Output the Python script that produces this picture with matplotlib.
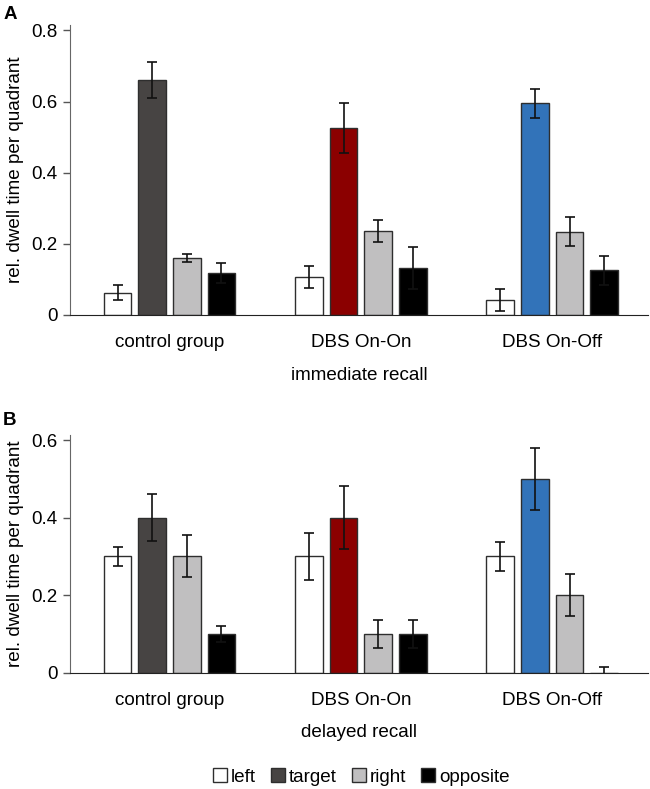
import matplotlib.pyplot as plt
import numpy as np
from matplotlib.patches import Patch

plt.rcParams['font.family'] = ['Liberation Sans', 'DejaVu Sans']

groups = ['control group', 'DBS On-On', 'DBS On-Off']
quadrants = ['left', 'target', 'right', 'opposite']

# immediate recall (panel A): one list per quadrant, one value per group
imm_left = [0.063, 0.107, 0.043]
imm_target = [0.660, 0.526, 0.595]
imm_right = [0.160, 0.235, 0.234]
imm_opposite = [0.118, 0.132, 0.125]
imm_left_err = [0.020, 0.031, 0.031]
imm_target_err = [0.051, 0.070, 0.040]
imm_right_err = [0.010, 0.031, 0.041]
imm_opposite_err = [0.029, 0.060, 0.040]

# delayed recall (panel B)
del_left = [0.30, 0.30, 0.30]
del_target = [0.40, 0.40, 0.50]
del_right = [0.30, 0.10, 0.20]
del_opposite = [0.10, 0.10, 0.00]
del_left_err = [0.024, 0.061, 0.038]
del_target_err = [0.060, 0.081, 0.080]
del_right_err = [0.054, 0.037, 0.054]
del_opposite_err = [0.021, 0.036, 0.015]

target_colors = ['#474443', '#8b0000', '#3273b9']
fixed_colors = {'left': '#ffffff', 'right': '#c0bfc0', 'opposite': '#000000'}
edge = '#2e2e2e'
fs = 13.6


def draw_panel(ax, vals, errs, ymax, yticks, xlabel):
    x = np.arange(len(groups))
    step, width = 0.181, 0.144
    for i, q in enumerate(quadrants):
        pos = x + (i - 1.5) * step
        colors = target_colors if q == 'target' else [fixed_colors[q]] * 3
        ax.bar(pos, vals[i], width, color=colors, edgecolor=edge, linewidth=1.0,
               zorder=2)
        ax.errorbar(pos, vals[i], yerr=errs[i], fmt='none', ecolor='#111111',
                    elinewidth=1.2, capsize=3.5, capthick=1.2, zorder=3)
    ax.set_xlim(-0.52, 2.5)
    ax.set_ylim(0, ymax)
    ax.set_yticks(yticks)
    ax.set_yticklabels(['0' if t == 0 else f'{t:.1f}' for t in yticks])
    ax.set_xticks(x)
    ax.set_xticklabels(groups)
    ax.tick_params(axis='x', length=0, pad=14, labelsize=fs)
    ax.tick_params(axis='y', length=5, width=1, labelsize=13.5, pad=4,
                   color='#555555')
    ax.spines['top'].set_visible(False)
    ax.spines['right'].set_visible(False)
    ax.spines['left'].set_color('#666666')
    ax.spines['bottom'].set_color('#222222')
    ax.set_ylabel('rel. dwell time per quadrant', fontsize=fs, labelpad=5)
    ax.set_xlabel(xlabel, fontsize=fs, labelpad=11)


fig = plt.figure(figsize=(6.5, 7.89), dpi=100)
ax1 = fig.add_axes([0.1077, 0.6008, 0.889, 0.3675])
ax2 = fig.add_axes([0.1077, 0.1474, 0.889, 0.3013])

draw_panel(ax1, [imm_left, imm_target, imm_right, imm_opposite],
           [imm_left_err, imm_target_err, imm_right_err, imm_opposite_err],
           0.815, [0, 0.2, 0.4, 0.6, 0.8], 'immediate recall')
draw_panel(ax2, [del_left, del_target, del_right, del_opposite],
           [del_left_err, del_target_err, del_right_err, del_opposite_err],
           0.613, [0, 0.2, 0.4, 0.6], 'delayed recall')

fig.text(0.005, 0.993, 'A', fontsize=13.5, fontweight='bold', va='top')
fig.text(0.005, 0.478, 'B', fontsize=13.5, fontweight='bold', va='top')

handles = [Patch(facecolor=c, edgecolor=edge, linewidth=1.0)
           for c in ['#ffffff', '#474443', '#c0bfc0', '#000000']]
fig.legend(handles, quadrants, loc='center', bbox_to_anchor=(0.556, 0.015),
           ncol=4, frameon=False, fontsize=13.6, handlelength=0.75,
           handleheight=0.75, handletextpad=0.2, columnspacing=0.8)

fig.savefig('out.png', dpi=100)
